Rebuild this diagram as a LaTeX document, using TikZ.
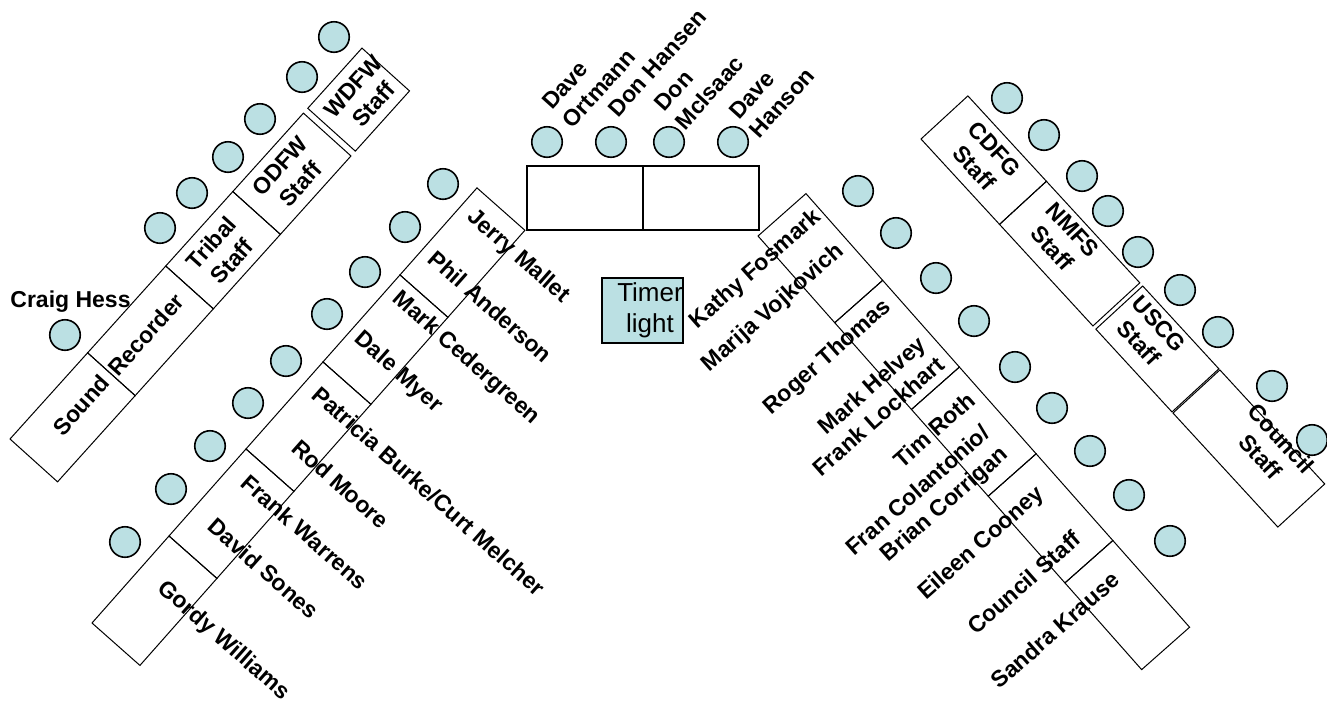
\documentclass[tikz,border=0pt]{standalone}
\usepackage{fontspec}
\setmainfont{Liberation Sans}
\definecolor{seatfill}{RGB}{187,224,227}
\tikzset{
  seat/.style={circle, draw=black, line width=1.6pt, fill=seatfill, minimum size=30.5pt, inner sep=0pt},
  tbl/.style={draw=black, line width=1pt},
  headtbl/.style={draw=black, line width=1.4pt},
  lbl/.style={font=\fontsize{23}{27.6}\selectfont\bfseries, inner sep=0pt},
  lo/.style={lbl, rotate=48, align=center},
  li/.style={lbl, rotate=-41.5},
  ri/.style={lbl, rotate=41.5, align=right},
  ro/.style={lbl, rotate=-47.4, align=center},
  hd/.style={lbl, rotate=48, align=left},
}
\begin{document}
\begin{tikzpicture}[x=1pt,y=-1pt]
\useasboundingbox (0,0) rectangle (1327,705);

% ---------- left outer strip ----------
\begin{scope}[shift={(10,439)}, rotate=48]
  \draw[tbl] (0,0) -- (116,0) -- (116,64) -- (0,64) -- cycle;
  \draw[tbl] (116,0) -- (232.8,0) -- (232.8,64) -- (116,64) -- cycle;
  \draw[tbl] (232.8,0) -- (333,0) -- (333,64) -- (232.8,64) -- cycle;
  \draw[tbl] (333,0) -- (438.5,0) -- (438.5,64) -- (333,64) -- cycle;
  \draw[tbl] (445,0) -- (526,0) -- (526,64) -- (445,64) -- cycle;
\end{scope}

% ---------- left inner strip ----------
\begin{scope}[shift={(92,623)}, rotate=48.5]
  \foreach \a/\b in {0/116.2,116.2/232.4,232.4/348.6,348.6/464.8,464.8/581}
    \draw[tbl] (\a,0) -- (\b,0) -- (\b,64) -- (\a,64) -- cycle;
\end{scope}

% ---------- right inner strip ----------
\begin{scope}[shift={(758,236)}, rotate=-48.5]
  \foreach \a/\b in {0/115.8,115.8/231.6,231.6/347.4,347.4/463.2,463.2/579}
    \draw[tbl] (\a,0) -- (\b,0) -- (\b,-64) -- (\a,-64) -- cycle;
\end{scope}

% ---------- right outer strip ----------
\begin{scope}[shift={(921,139)}, rotate=-47.4]
  \draw[tbl] (0,0) -- (116,0) -- (116,-63.7) -- (0,-63.7) -- cycle;
  \draw[tbl] (116,0) -- (254,0) -- (254,-63.7) -- (116,-63.7) -- cycle;
  \draw[tbl] (258.3,0) -- (370.8,0) -- (370.8,-63.7) -- (258.3,-63.7) -- cycle;
  \draw[tbl] (372.3,0) -- (527.2,0) -- (527.2,-63.7) -- (372.3,-63.7) -- cycle;
\end{scope}

% ---------- head table ----------
\draw[headtbl] (527,166) rectangle (643,230);
\draw[headtbl] (643,166) rectangle (759,230);

% ---------- timer light ----------
\node[draw=black, line width=2pt, fill=seatfill, minimum width=81pt, minimum height=65pt, inner sep=0pt] (timer) at (642.5,310.5) {};
\node[font=\fontsize{26}{31}\selectfont, align=center, inner sep=0pt] (timertext) at (650,310) {Timer\\light};

% ---------- seats ----------
\foreach \x/\y [count=\i] in {334/37,302/77,260/119,228/157,192/193,160/228,65/335}
  \node[seat] (lo\i) at (\x,\y) {};
\foreach \x/\y [count=\i] in {547/142,611/142,669/142,733/142}
  \node[seat] (hd\i) at (\x,\y) {};
\foreach \x/\y [count=\i] in {443/184,405/227,365/272,327/314,286/361,248/403,210/446,171/489,125/542}
  \node[seat] (li\i) at (\x,\y) {};
\foreach \x/\y [count=\i] in {858/191,896/233,936/278,974/321,1015/367,1052/408,1090/451,1129/495,1170/541}
  \node[seat] (ri\i) at (\x,\y) {};
\foreach \x/\y [count=\i] in {1007/98,1044/135,1082/176,1108/211,1138/252,1180/290,1218/332,1272/386,1312/440}
  \node[seat] (ro\i) at (\x,\y) {};

% ---------- labels: left outer ----------
\node[lbl, anchor=base] (craig) at (70.5,307) {Craig Hess};
\node[lo] (sound) at (81,405) {Sound};
\node[lo] (recorder) at (146,334.5) {Recorder};
\node[lo] (tribal) at (221.5,252) {Tribal\\Staff};
\node[lo] (odfw) at (290,175) {ODFW\\Staff};
\node[lo] (wdfw) at (363.5,95.5) {WDFW\\Staff};

% ---------- labels: head table ----------
\node[hd] (ortmann) at (589,79.3) {Dave\\Ortmann};
\node[hd] (hansen) at (657.5,63) {Don Hansen};
\node[hd] (mcisaac) at (699.2,83.5) {Don\\McIsaac};
\node[hd] (hanson) at (771.7,93.5) {Dave\\Hanson};

% ---------- labels: left inner ----------
\node[li] (mallet) at (518,256.5) {Jerry Mallet};
\node[li] (anderson) at (490.5,306.5) {Phil Anderson};
\node[li] (cedergreen) at (466,358.5) {Mark Cedergreen};
\node[li] (myer) at (398,372.5) {Dale Myer};
\node[li] (burke) at (429,491) {Patricia Burke/Curt Melcher};
\node[li] (moore) at (340.5,484) {Rod Moore};
\node[li] (warrens) at (305,532) {Frank Warrens};
\node[li] (sones) at (263.5,568.5) {David Sones};
\node[li] (williams) at (223.5,641) {Gordy Williams};

% ---------- labels: right inner ----------
\node[ri] (fosmark) at (756,269.5) {Kathy Fosmark};
\node[ri] (vojkovich) at (773.3,308.3) {Marija Vojkovich};
\node[ri] (thomas) at (827.5,357.5) {Roger Thomas};
\node[ri] (helvey) at (869,406) {Mark Helvey\\Frank Lockhart};
\node[ri] (roth) at (934,430) {Tim Roth};
\node[ri] (colantonio) at (928,502) {Fran Colantonio/\\Brian Corrigan};
\node[ri] (cooney) at (981.7,544) {Eileen Cooney};
\node[ri] (cstaff) at (1024,582.5) {Council Staff};
\node[ri] (krause) at (1055,630) {Sandra Krause};

% ---------- labels: right outer ----------
\node[ro] (cdfg) at (984.7,158.3) {CDFG\\Staff};
\node[ro] (nmfs) at (1062.5,239) {NMFS\\Staff};
\node[ro] (uscg) at (1149,333.3) {USCG\\Staff};
\node[ro] (council) at (1271,447.5) {Council\\Staff};
\end{tikzpicture}
\end{document}
